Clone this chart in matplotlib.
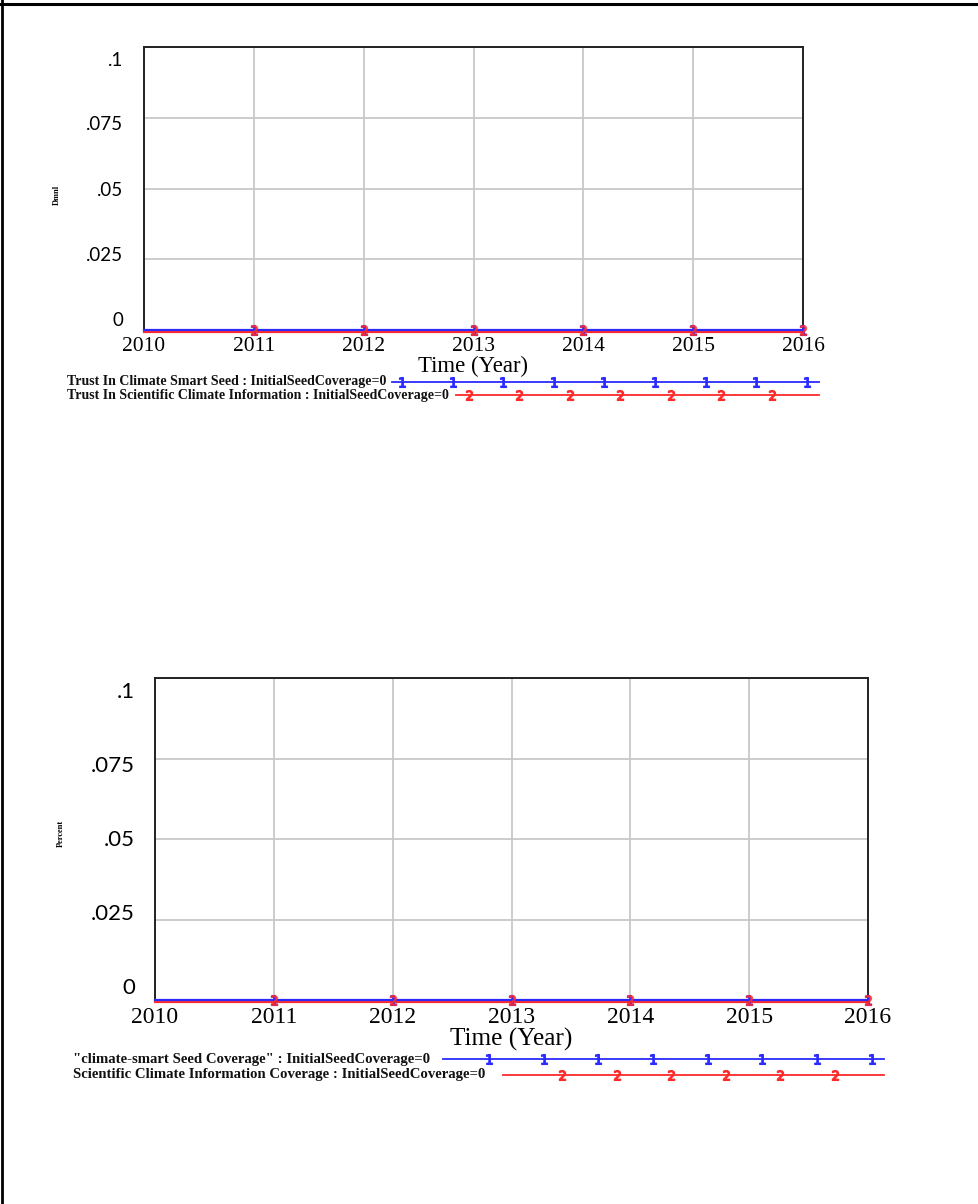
import matplotlib
matplotlib.use('Agg')
import matplotlib.pyplot as plt
from matplotlib.lines import Line2D
from matplotlib import transforms

# Data (every series is flat at zero)
years = [2010, 2011, 2012, 2013, 2014, 2015, 2016]
trust_seed = [0, 0, 0, 0, 0, 0, 0]
trust_info = [0, 0, 0, 0, 0, 0, 0]
seed_coverage = [0, 0, 0, 0, 0, 0, 0]
info_coverage = [0, 0, 0, 0, 0, 0, 0]
mark_years = [2011, 2012, 2013, 2014, 2015, 2016]
yticks = [0, 0.025, 0.05, 0.075, 0.1]
ytick_labels = ['0', '.025', '.05', '.075', '.1']

top_labels = ['Trust In Climate Smart Seed : InitialSeedCoverage=0',
              'Trust In Scientific Climate Information : InitialSeedCoverage=0']
bottom_labels = ['"climate-smart Seed Coverage" : InitialSeedCoverage=0',
                 'Scientific Climate Information Coverage : InitialSeedCoverage=0']

W, H = 979, 1204
SERIF = 'Liberation Serif'
SANS = 'Lato'
BLUE = '#2b2bff'
RED = '#ff2b2b'

fig = plt.figure(figsize=(W / 100, H / 100), dpi=100)


def frac(x0, y0, x1, y1):
    # pixel box (top-left origin) -> figure fraction rect
    return [x0 / W, 1 - y1 / H, (x1 - x0) / W, (y1 - y0) / H]


def chart(rect, s1, s2, ylabel, ylab_xy, tick_fs, xlab_fs, ytick_fs, ylab_dx, dy_top, dy_bot, xpad):
    ax = fig.add_axes(rect)
    ax.set_xlim(years[0], years[-1])
    ax.set_ylim(0, 0.1)
    ax.set_xticks(years)
    ax.set_xticklabels([str(y) for y in years], fontfamily=SERIF, fontsize=tick_fs)
    ax.set_yticks(yticks)
    ax.set_yticklabels([])
    ax.tick_params(length=0, pad=xpad)
    ax.grid(True, color='#c8c8c8', lw=1.3)
    ax.set_axisbelow(True)
    for sp in ax.spines.values():
        sp.set_color('#222222')
        sp.set_linewidth(1.4)
    ax.set_xlabel('Time (Year)', fontfamily=SERIF, fontsize=xlab_fs, labelpad=0)

    # y labels, squeezed inwards the way the original tool draws them
    for v, lab in zip(yticks, ytick_labels):
        dy = dy_bot + (dy_top - dy_bot) * v / 0.1
        ax.annotate(lab, xy=(0, v), xycoords=('axes fraction', 'data'),
                    xytext=(ylab_dx, dy), textcoords='offset pixels',
                    ha='right', va='center', fontfamily=SANS, fontsize=ytick_fs)

    low = transforms.offset_copy(ax.transData, fig=fig, y=-1.5, units='dots')
    ax.plot(years, s2, color=RED, lw=1.6, transform=low, clip_on=False, zorder=3)
    ax.plot(years, s1, color=BLUE, lw=1.6, clip_on=False, zorder=4)
    idx = [years.index(y) for y in mark_years]
    ax.plot(mark_years, [s1[i] for i in idx], ls='none', marker='$1$', ms=7,
            color=BLUE, clip_on=False, zorder=5)
    ax.plot(mark_years, [s2[i] for i in idx], ls='none', marker='$2$', ms=7,
            color=RED, alpha=0.75, clip_on=False, zorder=6)

    fig.text(ylab_xy[0] / W, 1 - ylab_xy[1] / H, ylabel, rotation=90,
             ha='center', va='center', fontfamily=SERIF, fontsize=6, fontweight='bold')
    return ax


chart(frac(144, 47, 803, 330), trust_seed, trust_info, 'Dmnl', (57, 195),
      15.5, 16.4, 13.5, -21, -13, 10, 5)
chart(frac(155, 678, 868, 1000), seed_coverage, info_coverage, 'Percent', (61, 833),
      17, 18.2, 16, -20, -14, 12, 5)

# legend rows drawn on a full-figure overlay in pixel units
ov = fig.add_axes([0, 0, 1, 1])
ov.set_xlim(0, W)
ov.set_ylim(H, 0)
ov.axis('off')


def legend_row(label, tx, y, fs, x0, x1, first, step, n, color, glyph):
    ov.text(tx, y, label, ha='left', va='center', fontfamily=SERIF,
            fontsize=fs, fontweight='bold', color='#111111')
    ov.plot([x0, x1], [y, y], color=color, lw=1.3)
    xs = [first + k * step for k in range(n)]
    ov.plot(xs, [y] * n, ls='none', marker=glyph, ms=7, color=color)


legend_row(top_labels[0], 67, 381.5, 10.0, 392, 819, 402, 50.6, 9, BLUE, '$1$')
legend_row(top_labels[1], 67, 395, 10.0, 456, 819, 469, 50.5, 7, RED, '$2$')
legend_row(bottom_labels[0], 73, 1059, 10.6, 443, 884, 489, 54.7, 8, BLUE, '$1$')
legend_row(bottom_labels[1], 73, 1074.5, 10.6, 503, 884, 562, 54.6, 6, RED, '$2$')

# page border of the source document
fig.add_artist(Line2D([0, 1], [1 - 3.5 / H] * 2, color='black', lw=2.2))
fig.add_artist(Line2D([2 / W] * 2, [0, 1], color='black', lw=2.0))

fig.savefig('out.png', dpi=100)
